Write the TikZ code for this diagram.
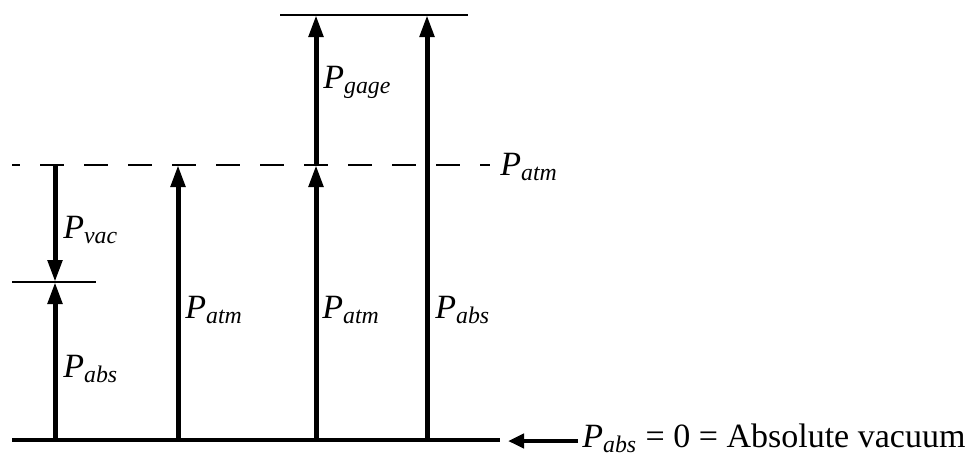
\documentclass[tikz,border=0pt]{standalone}
\usepackage{amsmath}
\usepackage{fontspec}
\setmainfont{Liberation Serif}
\usetikzlibrary{arrows.meta}

\newcommand{\press}[1]{\textit{P}$_{\textit{#1}}$}

\begin{document}
\begin{tikzpicture}[x=0.5pt, y=-0.5pt,
    font=\fontsize{17}{20}\selectfont,
    pr/.style={line width=2.5pt, -{Triangle[length=11pt,width=7pt]}},
    lbl/.style={anchor=base west, inner sep=0pt}]

    \useasboundingbox (0,0) rectangle (979,457);

    % Levels
    \coordinate (zeroL) at (12,440);
    \coordinate (zeroR) at (500,440);
    \coordinate (atmL) at (12,165);
    \coordinate (atmR) at (490,165);
    \coordinate (vacL) at (12,282);
    \coordinate (vacR) at (96,282);
    \coordinate (gageL) at (280,15);
    \coordinate (gageR) at (468,15);

    \draw[line width=2pt] (zeroL) -- (zeroR);
    \draw[line width=0.8pt, dash pattern=on 12pt off 10pt, dash phase=8pt] (atmL) -- (atmR);
    \draw[line width=0.6pt] (vacL) -- (vacR);
    \draw[line width=0.8pt] (gageL) -- (gageR);

    % Arrows
    \draw[pr] (55,165) -- (55,282);
    \draw[pr] (55,440) -- (55,282);
    \draw[pr] (178,440) -- (178,165);
    \draw[pr] (316,440) -- (316,165);
    \draw[pr] (316,165) -- (316,15);
    \draw[pr] (427,440) -- (427,15);

    % Labels
    \node[lbl] (vac) at (63,238) {\press{vac}};
    \node[lbl] (absA) at (63,377) {\press{abs}};
    \node[lbl] (atmA) at (185,318) {\press{atm}};
    \node[lbl] (atmB) at (322,318) {\press{atm}};
    \node[lbl] (absB) at (435,318) {\press{abs}};
    \node[lbl] (gage) at (323,88) {\press{gage}};
    \node[lbl] (atm) at (500,175) {\press{atm}};

    % Absolute vacuum
    \node[lbl] (zero) at (582,447) {\press{abs} = 0 = Absolute vacuum};
    \coordinate (tail) at (578,441);
    \coordinate (tip) at (508,441);
    \draw[line width=2pt, -{Triangle[length=8pt,width=7pt]}] (tail) -- (tip);

\end{tikzpicture}
\end{document}
